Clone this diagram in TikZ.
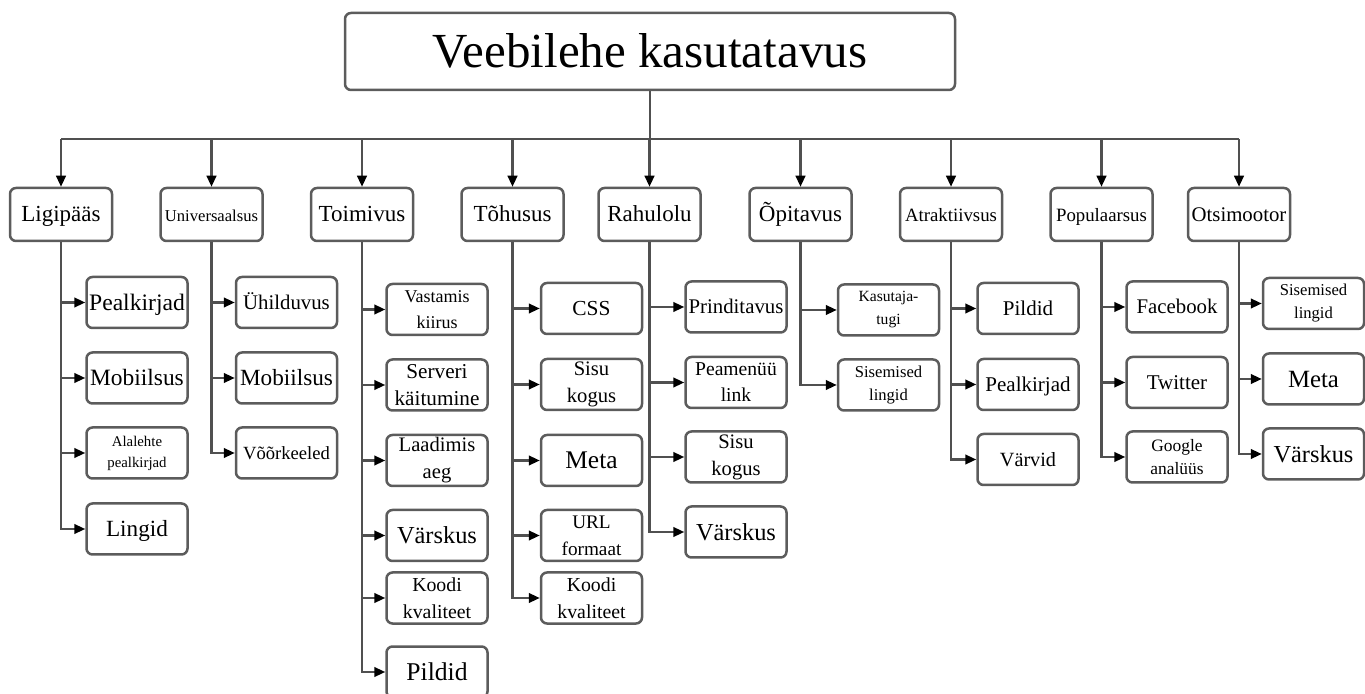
\documentclass[tikz,border=0pt]{standalone}
\usepackage{fontspec}
\setmainfont{Liberation Serif}
\usetikzlibrary{arrows.meta}
\definecolor{boxgray}{HTML}{5C5C5C}
\definecolor{linegray}{HTML}{505050}
\newcommand{\fsz}[2]{\fontsize{#1}{#2}\selectfont}
\newcommand{\onestrut}{\rule[-0.27em]{0pt}{1.2em}}
\newcommand{\catstrut}{\rule[-3.2pt]{0pt}{13.9pt}}
\begin{document}
\begin{tikzpicture}[x=0.5pt,y=-0.5pt,
  box/.style={draw=boxgray, line width=1.25pt, rounded corners=3pt, inner sep=0pt, align=center, text=black},
  oneline/.style={execute at begin node=\onestrut},
  topbox/.style={box, oneline, minimum width=305pt, minimum height=38.5pt},
  catbox/.style={box, execute at begin node=\catstrut, minimum width=51pt, minimum height=26.5pt},
  leafbox/.style={box, minimum width=50.5pt, minimum height=25.5pt},
  leafone/.style={leafbox, oneline},
  conn/.style={draw=linegray, line width=1.1pt},
  arr/.style={conn, -{Triangle[length=5.5pt,width=4.8pt,color=black]}},
]
\useasboundingbox (0,0) rectangle (1365,694);

% root
\node[topbox, font=\fsz{24.5}{28}] (root) at (650,51.5) {Veebilehe kasutatavus};

% categories
\node[catbox, font=\fsz{11.5}{13}] (c1) at (61,214.5) {Ligipääs};
\node[catbox, font=\fsz{8.3}{10}] (c2) at (211.5,214.5) {Universaalsus};
\node[catbox, font=\fsz{11.5}{13}] (c3) at (362,214.5) {Toimivus};
\node[catbox, font=\fsz{11.5}{13}] (c4) at (512.5,214.5) {Tõhusus};
\node[catbox, font=\fsz{11.5}{13}] (c5) at (649.5,214.5) {Rahulolu};
\node[catbox, font=\fsz{11.5}{13}] (c6) at (800.5,214.5) {Õpitavus};
\node[catbox, font=\fsz{9.4}{11}] (c7) at (951,214.5) {Atraktiivsus};
\node[catbox, font=\fsz{9.4}{11}] (c8) at (1101.5,214.5) {Populaarsus};
\node[catbox, font=\fsz{10.4}{12}] (c9) at (1239,214.5) {Otsimootor};

% column 1
\node[leafone, font=\fsz{11.8}{13}] (a1) at (137,302.5) {Pealkirjad};
\node[leafone, font=\fsz{11.7}{13}] (a2) at (137,378) {Mobiilsus};
\node[leafbox, font=\fsz{7.4}{10.5}] (a3) at (137,453) {Alalehte\\pealkirjad};
\node[leafone, font=\fsz{11.6}{13}] (a4) at (137,529) {Lingid};
% column 2
\node[leafone, font=\fsz{10.4}{12}] (b1) at (286.5,302.5) {Ühilduvus};
\node[leafone, font=\fsz{11.6}{13}] (b2) at (286.5,378) {Mobiilsus};
\node[leafone, font=\fsz{9.3}{11}] (b3) at (286.5,453) {Võõrkeeled};
% column 3
\node[leafbox, font=\fsz{9}{13}] (d1) at (437,309.5) {Vastamis\\kiirus};
\node[leafbox, font=\fsz{10.6}{13.5}] (d2) at (437,385) {Serveri\\käitumine};
\node[leafbox, font=\fsz{10.3}{13.5}] (d3) at (437,460.5) {Laadimis\\aeg};
\node[leafone, font=\fsz{12.2}{14}] (d4) at (437,535.5) {Värskus};
\node[leafbox, font=\fsz{9.9}{13.5}] (d5) at (437,598) {Koodi\\kvaliteet};
\node[leafone, font=\fsz{12.8}{14}] (d6) at (437,672) {Pildid};
% column 4
\node[leafone, font=\fsz{10.7}{12}] (e1) at (591.5,308.5) {CSS};
\node[leafbox, font=\fsz{10.3}{13.5}] (e2) at (591.5,384.5) {Sisu\\kogus};
\node[leafone, font=\fsz{12.7}{14}] (e3) at (591.5,460.5) {Meta};
\node[leafbox, font=\fsz{9.6}{13.5}] (e4) at (591.5,535.5) {URL\\formaat};
\node[leafbox, font=\fsz{9.9}{13.5}] (e5) at (591.5,598) {Koodi\\kvaliteet};
% column 5
\node[leafone, font=\fsz{10.4}{12}] (f1) at (736,307) {Prinditavus};
\node[leafbox, font=\fsz{9.8}{13}] (f2) at (736,382.5) {Peamenüü\\link};
\node[leafbox, font=\fsz{10.3}{13.5}] (f3) at (736,457) {Sisu\\kogus};
\node[leafone, font=\fsz{12.2}{14}] (f4) at (736,532) {Värskus};
% column 6
\node[leafbox, font=\fsz{7.8}{11.5}] (g1) at (888.5,310) {Kasutaja-\\tugi};
\node[leafbox, font=\fsz{8.3}{11.5}] (g2) at (888.5,385) {Sisemised\\lingid};
% column 7
\node[leafone, font=\fsz{10.5}{12}] (h1) at (1028,308.5) {Pildid};
\node[leafone, font=\fsz{10.5}{12}] (h2) at (1028,384.5) {Pealkirjad};
\node[leafone, font=\fsz{10.1}{12}] (h3) at (1028,459.5) {Värvid};
% column 8
\node[leafone, font=\fsz{10.4}{12}] (i1) at (1177,307) {Facebook};
\node[leafone, font=\fsz{10.5}{12}] (i2) at (1177,382.5) {Twitter};
\node[leafbox, font=\fsz{8.7}{11.5}] (i3) at (1177,457) {Google\\analüüs};
% column 9
\node[leafbox, font=\fsz{8.3}{11.5}] (j1) at (1313.5,303.5) {Sisemised\\lingid};
\node[leafone, font=\fsz{12.4}{14}] (j2) at (1313.5,379) {Meta};
\node[leafone, font=\fsz{12.2}{14}] (j3) at (1313.5,454) {Värskus};

% root to categories
\coordinate (bar) at (650,139);
\draw[conn] (root.south) -- (bar);
\draw[conn] (c1.north |- bar) -- (c9.north |- bar);
\foreach \c in {c1,c2,c3,c4,c5,c6,c7,c8,c9}
  \draw[arr] (\c.north |- bar) -- (\c.north);

% trunks (category to its last leaf)
\foreach \p/\l in {c1/a4,c2/b3,c3/d6,c4/e5,c5/f4,c6/g2,c7/h3,c8/i3,c9/j3}
  \draw[arr] (\p.south) |- (\l.west);

% other leaves
\foreach \p/\l in {c1/a1,c1/a2,c1/a3,c2/b1,c2/b2,
                   c3/d1,c3/d2,c3/d3,c3/d4,c3/d5,
                   c4/e1,c4/e2,c4/e3,c4/e4,
                   c5/f1,c5/f2,c5/f3,
                   c6/g1,
                   c7/h1,c7/h2,
                   c8/i1,c8/i2,
                   c9/j1,c9/j2}
  \draw[arr] (\p.south |- \l.west) -- (\l.west);
\end{tikzpicture}
\end{document}
